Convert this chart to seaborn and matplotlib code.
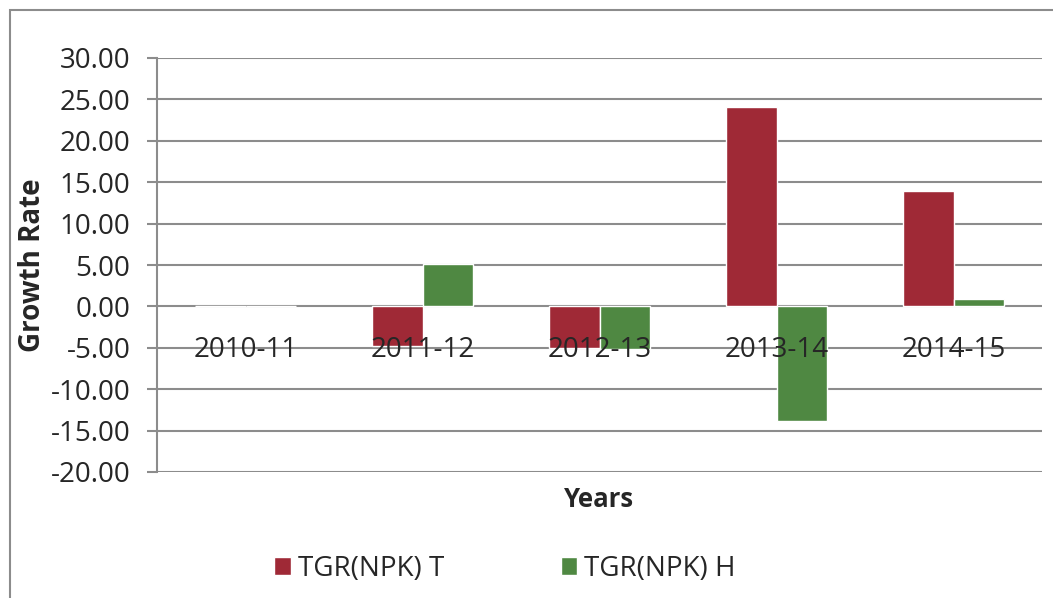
import matplotlib
matplotlib.use("Agg")
import matplotlib.pyplot as plt
import matplotlib.ticker as mticker
from matplotlib.patches import Rectangle
import seaborn as sns
import pandas as pd

# values
years = ["2010-11", "2011-12", "2012-13", "2013-14", "2014-15"]
tgr_t = [0.0, -4.8, -5.0, 24.1, 13.9]
tgr_h = [0.0, 5.1, -5.1, -13.9, 0.95]
series_names = ["TGR(NPK) T", "TGR(NPK) H"]
y_ticks = [-20, -15, -10, -5, 0, 5, 10, 15, 20, 25, 30]

df = pd.DataFrame({
    "Year": years * 2,
    "Rate": tgr_t + tgr_h,
    "Series": [series_names[0]] * len(years) + [series_names[1]] * len(years),
})

sns.set_style("white")
plt.rcParams["font.family"] = ["Open Sans", "DejaVu Sans"]
plt.rcParams["axes.unicode_minus"] = False

grid_col = "#8c8c8c"
colors = {"TGR(NPK) T": "#9f2936", "TGR(NPK) H": "#4f8842"}

fig = plt.figure(figsize=(10.53, 5.98), dpi=100)
ax = fig.add_axes([157 / 1053, 1 - 472 / 598, 885 / 1053, 414 / 598])

sns.barplot(data=df, x="Year", y="Rate", hue="Series", palette=colors,
            width=0.565, saturation=1, ax=ax, legend=True)

ax.set_ylim(-20, 30)
ax.set_yticks(y_ticks)
ax.yaxis.set_major_formatter(mticker.FormatStrFormatter("%.2f"))
ax.yaxis.grid(True, color=grid_col, linewidth=1.5)
ax.set_axisbelow(True)
ax.xaxis.set_zorder(3)

for s in ["top", "right"]:
    ax.spines[s].set_visible(False)
ax.spines["left"].set_color(grid_col)
ax.spines["left"].set_linewidth(1.5)
ax.spines["bottom"].set_position(("data", 0))
ax.spines["bottom"].set_visible(False)

ax.tick_params(axis="y", left=True, length=7.2, width=1.5, color=grid_col,
               labelsize=20, pad=12)
ax.tick_params(axis="x", length=0, labelsize=20, pad=21)

ax.set_xlabel("Years", fontsize=18.5, fontweight="bold")
ax.set_ylabel("Growth Rate", fontsize=20, fontweight="bold")
ax.xaxis.set_label_coords(0.5, -0.034)
ax.yaxis.set_label_coords(-0.124, 0.5)

handles, labels = ax.get_legend_handles_labels()
ax.legend(handles, labels, loc="center", bbox_to_anchor=(505 / 1053, 1 - 569 / 598),
          bbox_transform=fig.transFigure, ncol=2, frameon=False, fontsize=20,
          handlelength=0.6, handleheight=0.6, handletextpad=0.25,
          columnspacing=4.2)

# chart area border (only left and top edges fall inside the image)
fig.patches.append(Rectangle((10 / 1053, -0.5), 2, 1.5 - 10 / 598, transform=fig.transFigure,
                             fill=False, edgecolor=grid_col, linewidth=1.5))

fig.savefig("out.png", dpi=100)
